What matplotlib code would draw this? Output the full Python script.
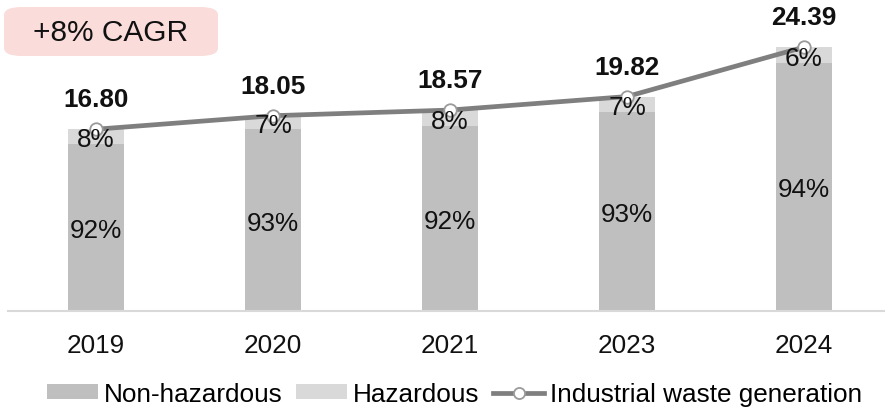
import matplotlib
matplotlib.use("Agg")
import matplotlib.pyplot as plt
from matplotlib.patches import FancyBboxPatch, Patch
from matplotlib.lines import Line2D

plt.rcParams['font.family'] = ['Liberation Sans', 'DejaVu Sans']

years = ["2019", "2020", "2021", "2023", "2024"]
totals = [16.80, 18.05, 18.57, 19.82, 24.39]
non_haz_pct = [92, 93, 92, 93, 94]
haz_pct = [8, 7, 8, 7, 6]
cagr_text = "+8% CAGR"

c_nonhaz = "#bfbfbf"
c_haz = "#d9d9d9"
c_line = "#7f7f7f"

W, H = 885, 410
fig = plt.figure(figsize=(W / 100, H / 100), dpi=100)
ax = fig.add_axes([7.5 / W, (H - 312) / H, 1.0, 312 / H])

x = list(range(len(years)))
nonhaz_vals = [t * p / 100 for t, p in zip(totals, non_haz_pct)]
haz_vals = [t * p / 100 for t, p in zip(totals, haz_pct)]

bw = 0.316
ax.bar(x, nonhaz_vals, width=bw, color=c_nonhaz, zorder=2)
ax.bar(x, haz_vals, width=bw, bottom=nonhaz_vals, color=c_haz, zorder=2)
ax.plot(x, totals, color=c_line, lw=3.4, marker='o', ms=9, mfc='white',
        mec='#9a9a9a', mew=1.3, zorder=3, solid_capstyle='round')

fs = 18.8
for i in x:
    ax.text(i, nonhaz_vals[i] / 2, f"{non_haz_pct[i]}%", ha='center',
            va='center_baseline', fontsize=fs, color='#111111', zorder=4)
    ax.text(i, nonhaz_vals[i] + haz_vals[i] / 2, f"{haz_pct[i]}%", ha='center',
            va='center_baseline', fontsize=fs, color='#111111', zorder=4)
    ax.annotate(f"{totals[i]:.2f}", (i, totals[i]), xytext=(0, 21.5),
                textcoords='offset points', ha='center', va='center',
                fontsize=fs, fontweight='bold', color='#111111', zorder=4)

ax.set_xlim(-0.5, 4.5)
ax.set_ylim(0, 312 / 10.82)
ax.set_xticks(x)
ax.set_xticklabels(years, fontsize=fs, color='#111111')
ax.tick_params(axis='x', length=0, pad=16)
ax.set_yticks([])
for s in ['top', 'right', 'left']:
    ax.spines[s].set_visible(False)
ax.spines['bottom'].set_color('#d9d9d9')
ax.spines['bottom'].set_linewidth(1.5)
ax.patch.set_alpha(0)

# CAGR box
box = FancyBboxPatch((4 / W, (H - 57) / H), 214 / W, 49 / H,
                     boxstyle="round,pad=0,rounding_size=0.02",
                     transform=fig.transFigure, facecolor='#fadcdb',
                     edgecolor='none', zorder=5)
fig.patches.append(box)
fig.text(111 / W, (H - 33) / H, cagr_text, ha='center', va='center',
         fontsize=21.5, color='#111111', zorder=6)

handles = [
    Patch(facecolor=c_nonhaz, edgecolor='none'),
    Patch(facecolor=c_haz, edgecolor='none'),
    Line2D([0], [0], color=c_line, lw=3.4, marker='o', ms=8, mfc='white',
           mec='#9a9a9a', mew=1.3),
]
labels = ["Non-hazardous", "Hazardous", "Industrial waste generation"]
fig.legend(handles, labels, loc='center', bbox_to_anchor=(454.5 / W, 15 / H),
           ncol=3, frameon=False, fontsize=fs, handlelength=1.95,
           handleheight=0.5, handletextpad=0.2, columnspacing=0.55,
           borderpad=0, borderaxespad=0)

fig.savefig("out.png", dpi=100)
